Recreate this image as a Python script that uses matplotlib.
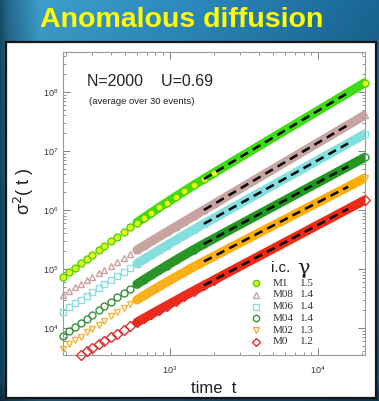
import numpy as np
import matplotlib.pyplot as plt
from matplotlib.patches import Rectangle
from matplotlib.lines import Line2D
from matplotlib.ticker import LogLocator

plt.rcParams['font.family'] = ['Liberation Sans', 'DejaVu Sans']

# sampling times and sigma^2(t) for each initial condition
t = [190, 210, 230, 250, 275, 300, 330, 360, 400, 440, 490, 540, 600, 670, 750,
     850, 950, 1100, 1250, 1450, 1700, 2000, 2400, 2900, 3500, 4300, 5300, 6500,
     8000, 10000, 12500, 16000, 20800]

m1 = [7.30e4, 8.88e4, 1.058e5, 1.241e5, 1.488e5, 1.752e5, 2.093e5, 2.457e5, 2.979e5,
      3.538e5, 4.289e5, 5.09e5, 6.12e5, 7.40e5, 8.97e5, 1.107e6, 1.330e6, 1.690e6,
      2.075e6, 2.623e6, 3.353e6, 4.276e6, 5.64e6, 7.49e6, 9.94e6, 1.353e7, 1.851e7,
      2.515e7, 3.434e7, 4.80e7, 6.71e7, 9.71e7, 1.440e8]
m08 = [3.633e4, 4.239e4, 4.874e4, 5.540e4, 6.412e4, 7.325e4, 8.475e4, 9.676e4, 1.136e5,
       1.314e5, 1.546e5, 1.792e5, 2.101e5, 2.483e5, 2.943e5, 3.551e5, 4.197e5, 5.228e5,
       6.326e5, 7.894e5, 1.0e6, 1.268e6, 1.666e6, 2.205e6, 2.913e6, 3.950e6, 5.383e6,
       7.280e6, 9.899e6, 1.377e7, 1.916e7, 2.762e7, 4.072e7]
m06 = [1.887e4, 2.237e4, 2.609e4, 3.000e4, 3.517e4, 4.061e4, 4.750e4, 5.474e4, 6.492e4,
       7.565e4, 8.977e4, 1.046e5, 1.234e5, 1.464e5, 1.741e5, 2.106e5, 2.490e5, 3.097e5,
       3.737e5, 4.636e5, 5.821e5, 7.295e5, 9.447e5, 1.231e6, 1.602e6, 2.138e6, 2.864e6,
       3.812e6, 5.097e6, 6.966e6, 9.521e6, 1.345e7, 1.943e7]
m04 = [7.295e3, 8.803e3, 1.042e4, 1.215e4, 1.445e4, 1.690e4, 2.002e4, 2.333e4, 2.801e4,
       3.298e4, 3.953e4, 4.645e4, 5.524e4, 6.600e4, 7.896e4, 9.599e4, 1.138e5, 1.419e5,
       1.713e5, 2.122e5, 2.653e5, 3.304e5, 4.240e5, 5.473e5, 7.056e5, 9.316e5, 1.235e6,
       1.627e6, 2.154e6, 2.911e6, 3.934e6, 5.489e6, 7.825e6]
m02 = [4.398e3, 5.252e3, 6.162e3, 7.122e3, 8.389e3, 9.727e3, 1.142e4, 1.320e4, 1.570e4,
       1.832e4, 2.177e4, 2.537e4, 2.991e4, 3.544e4, 4.204e4, 5.064e4, 5.962e4, 7.360e4,
       8.815e4, 1.082e5, 1.341e5, 1.656e5, 2.105e5, 2.692e5, 3.438e5, 4.494e5, 5.897e5,
       7.687e5, 1.007e6, 1.346e6, 1.799e6, 2.480e6, 3.487e6]
# M0 starts later, at t = 250
m0 = [3.483e3, 4.015e3, 4.567e3, 5.255e3, 5.972e3, 6.966e3, 8.000e3, 9.343e3,
      1.074e4, 1.249e4, 1.460e4, 1.713e4, 2.040e4, 2.382e4, 2.918e4, 3.477e4, 4.256e4,
      5.272e4, 6.531e4, 8.350e4, 1.074e5, 1.379e5, 1.814e5, 2.395e5, 3.143e5, 4.141e5,
      5.572e5, 7.497e5, 1.041e6, 1.476e6]

names = ['M1', 'M08', 'M06', 'M04', 'M02', 'M0']
gammas = ['1.5', '1.4', '1.4', '1.4', '1.3', '1.2']

series = [
    # y, marker, face, edge, band colour
    (m1, 'o', '#e8f41c', '#52d600', '#3edc12'),
    (m08, '^', 'none', '#c9a19e', '#c8a5a2'),
    (m06, 's', 'none', '#8fdcdc', '#80e0e0'),
    (m04, 'o', 'none', '#3a8f3a', '#1f9a1f'),
    (m02, 'v', 'none', '#f2b440', '#ffad05'),
    (m0, 'D', 'none', '#dd3030', '#f02a12'),
]

W, H = 379, 401
fig = plt.figure(figsize=(W / 100, H / 100), dpi=100)


def fx(px):
    return px / W


def fy(py):
    return 1 - py / H


# slide background
bg = fig.add_axes([0, 0, 1, 1], zorder=0)
bg.set_xlim(0, W)
bg.set_ylim(H, 0)
bg.axis('off')
xs = np.arange(W)
ys = np.arange(H)
stops = [0, 8, 40, 190, W]
base = np.stack([np.interp(xs, stops, [0.09, 0.14, 0.24, 0.17, 0.10]),
                 np.interp(xs, stops, [0.30, 0.42, 0.62, 0.54, 0.40]),
                 np.interp(xs, stops, [0.42, 0.56, 0.80, 0.74, 0.58])], axis=-1)
shade = np.interp(ys, [0, 40, 380, H], [1.0, 0.95, 0.8, 0.5])
bg.imshow(base[None, :, :] * shade[:, None, None], extent=(0, W, H, 0),
          aspect='auto', interpolation='bilinear')
bg.add_patch(Rectangle((6, 42), 370, 356, facecolor='white',
                       edgecolor='#151515', lw=1.6))

fig.text(fx(182), fy(20), 'Anomalous diffusion', color='#ffff00',
         fontsize=20.5, fontweight='bold', ha='center', va='center')

ax = fig.add_axes([fx(63), fy(355), fx(365) - fx(63), fy(52) - fy(355)], zorder=1)
ax.set_facecolor('none')
ax.set_xscale('log')
ax.set_yscale('log')
ax.set_xlim(190, 20800)
ax.set_ylim(3.48e3, 4.76e8)

for y, mk, face, edge, band in series:
    tt = t[len(t) - len(y):]
    n = len(y)
    k = n - 21  # band from t = 600
    m = n - 11  # markers up to t = 2000
    ax.plot(tt[k:], y[k:], color=band, lw=6.6, solid_capstyle='round', zorder=2)
    ax.plot(tt[:m] + tt[-1:], y[:m] + y[-1:], ls='none', marker=mk, ms=5,
            mfc=face, mec=edge, mew=1.0, clip_on=False, zorder=3)
    ax.plot(tt[n - 13:n - 1], y[n - 13:n - 1], color='black', lw=1.8,
            dashes=(3.5, 2.2), zorder=4)

ax.yaxis.set_major_locator(LogLocator(base=10, numticks=12))
ax.yaxis.set_minor_locator(LogLocator(base=10, subs=np.arange(2, 10), numticks=12))
ax.tick_params(which='both', direction='in', top=True, right=True,
               colors='#808080', labelcolor='#333333', labelsize=6.5)
ax.tick_params(which='major', length=5, width=0.7)
ax.tick_params(which='minor', length=2.5, width=0.6)
ax.tick_params(axis='x', which='major', pad=7)
for s in ax.spines.values():
    s.set_color('#9a9a9a')
    s.set_linewidth(0.8)

ax.set_xlabel('time  t', fontsize=12, color='#222222')
ax.xaxis.set_label_coords(0.5, -0.085)
ax.set_ylabel('σ$^2$( t )', fontsize=13, color='#222222')
ax.yaxis.set_label_coords(-0.088, 0.54)

fig.text(fx(87), fy(81), 'N=2000    U=0.69', fontsize=11.5, color='#222222',
         va='center')
fig.text(fx(89), fy(101), '(average over 30 events)', fontsize=6.8,
         color='#222222', va='center')

# legend table
fig.text(fx(271), fy(268), 'i.c.', fontsize=11, color='#222222', va='center')
fig.text(fx(297), fy(268), 'γ', fontsize=15, color='#222222', va='center',
         family='DejaVu Serif')
for i, (name, g) in enumerate(zip(names, gammas)):
    yy = fy(283 + 11.8 * i)
    y, mk, face, edge, band = series[i]
    fig.add_artist(Line2D([fx(256)], [yy], marker=mk, ms=4.5, mfc=face, mec=edge,
                          mew=1.0, transform=fig.transFigure))
    fig.text(fx(273), yy, name, fontsize=8, color='#333333', va='center',
             family='Liberation Serif')
    fig.text(fx(300), yy, g, fontsize=8, color='#333333', va='center',
             family='Liberation Serif')

fig.savefig('out.png', dpi=100)
